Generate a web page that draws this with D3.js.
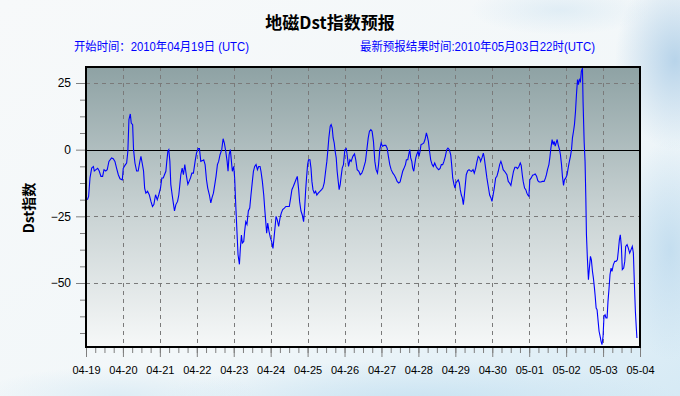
<!DOCTYPE html>
<html><head><meta charset="utf-8">
<script src="https://cdn.jsdelivr.net/npm/d3@7"></script>
<style>body{margin:0;overflow:hidden;} svg{display:block;}</style>
</head><body><svg id="c" width="680" height="396"></svg>
<script>
// ---- texts ----
const titleText = "地磁Dst指数预报";
const startText = "开始时间：2010年04月19日 (UTC)";
const latestText = "最新预报结果时间:2010年05月03日22时(UTC)";
const yLabel = "Dst指数";
// ---- axes ----
const startDate = Date.UTC(2010, 3, 19);
const endDate = Date.UTC(2010, 4, 4);
const yDomain = [-74, 31];
const yMajorTicks = [25, 0, -25, -50];
const yGridTicks = [25, -25, -50];
// ---- series: hours since 2010-04-19 00:00 UTC and Dst values (nT) ----
const hours = [0.9,1.7,2.6,3.7,4.8,5.4,6.5,7.6,8.6,9.7,10.8,11.7,12.8,13.8,14.9,16.6,17.7,18.8,19.9,21,22.1,23.6,24.2,25.3,26.4,27.2,27.9,28.8,29.4,30.3,30.9,31.8,32.9,33.9,35,35.7,36.5,37.4,38.1,38.9,40,41.1,42.2,43.2,44.1,45.2,46.3,47.3,48.4,49.3,50.2,51,51.9,52.5,53.2,53.8,54.5,55.1,56,56.9,57.5,58.4,59.5,60.3,61,61.6,62.5,63.3,64.2,65.3,66.2,67,67.9,68.8,69.8,70.9,71.8,72.9,73.7,74.6,75.7,76.5,77.4,78.3,79.1,80.2,81.1,81.9,82.8,83.7,84.5,85.4,86.2,87.1,88.2,89.1,89.9,
90.8,91.7,92.3,93,93.8,94.5,95.1,96,96.6,97.3,98.2,98.8,99.7,100.3,101,101.6,102.5,103.1,103.8,104.6,105.5,106.4,107.2,108.1,108.8,109.6,110.5,111.4,112.2,113.1,113.7,114.6,115.5,116.1,116.8,117.4,118.1,118.9,119.8,120.6,121.5,122.2,122.8,123.5,124.3,125.2,126.1,126.9,127.8,128.9,129.9,131,132.1,133,133.8,134.7,135.6,136.4,137.3,138.2,138.8,139.7,140.5,141.4,142.1,142.7,143.3,144,144.6,145.5,146.2,146.8,147.5,148.3,149.2,150,150.9,152,153.1,153.9,154.8,155.7,156.5,157.2,157.8,158.7,159.3,160,160.6,161.3,161.9,162.6,163.2,163.9,164.5,165.2,165.8,166.5,167.3,168.2,169.1,169.7,170.6,171.5,172.3,173.4,174.5,175.3,176.2,177.3,178.2,179.2,180.1,
181.6,182.5,183.4,184.2,185.1,185.9,186.8,187.7,188.5,189.4,190.1,190.9,191.8,192.6,193.7,194.8,195.7,196.5,197.4,198.3,199.4,200.4,201.3,202.2,203.2,204.1,205,205.8,206.7,207.6,208.2,209.1,209.7,210.4,211,211.7,212.3,213,213.6,214.3,214.9,215.8,216.4,217.1,217.7,218.6,219.5,220.3,221.2,221.8,222.5,223.1,224,224.9,225.7,226.6,227.5,228.3,229.2,230.1,230.9,231.8,232.6,233.5,234.4,235.2,236.1,237,237.6,238.3,239.1,239.8,240.4,241.1,241.9,242.6,243.2,243.9,244.5,245.2,245.8,246.5,247.1,248,248.9,249.7,250.6,251.5,252.3,253.2,254.1,254.9,255.8,256.4,257.3,258.2,258.8,259.7,260.5,261.4,262.3,263.1,263.8,264.4,265.3,266.2,267,267.9,268.8,269.6,270.3,271.1,272,
273.5,274.4,275.2,276.1,277,277.8,278.7,279.6,280.4,281.3,282.2,282.8,283.5,284.1,285,285.8,286.5,287.1,287.8,288.4,289.3,290.2,291,291.9,292.8,293.6,294.5,295.6,296.6,297.7,298.6,299.2,299.9,300.8,301.4,302.1,302.9,303.6,304.2,304.9,305.5,306.2,306.8,307.7,308.3,309,309.6,310.3,310.9,311.8,312.6,313.3,314.1,314.8,315.5,316.1,316.8,317.4,318.1,318.7,319.4,320,320.6,321.3,321.9,322.6,323,323.7,324.3,324.8,325.2,325.8,326.5,327.1,327.8,328.4,329.1,329.7,330.4,330.8,331.5,332.1,332.8,333.4,334.1,334.7,335.3,336,336.6,337.3,337.9,338.6,339.2,339.9,340.5,341.2,341.8,342.7,343.6,344.4,345.3,345.9,346.6,347.2,347.9,348.5,349.4,350.1,350.7,351.6,352.4,353.3,354.2,355,355.7,356.3,357,357.6,358];
const dst = [-18.8,-17.5,-10.6,-6.9,-6.3,-8,-7.5,-7,-8,-10,-10,-7.5,-8,-7.5,-4.4,-3.1,-3.4,-4.4,-7,-9.4,-10.9,-11.3,-7,-5.9,-5,-0.6,11.3,13.4,10,9.4,0,-5,-8,-8,-4.4,-2.5,-5,-8,-14.4,-16.3,-15.6,-16.9,-19.4,-21.3,-20.6,-16.9,-18.8,-16.9,-14.4,-10.6,-10.6,-9.4,-8.1,-4.4,-0.6,0,-4.4,-13,-17,-20.6,-23,-20.6,-19.4,-17,-13,-9.4,-6.9,-9.4,-5.6,-10,-13,-11.9,-10.6,-8.8,-8.8,-4.4,-1.3,0.4,0.4,-4.4,-4.1,-3.8,-5.6,-11.3,-14.4,-17,-20,-18,-16.3,-13,-10,-5.6,-4.4,-1.9,0,4.1,2.5,
-0.6,-4.4,-8.1,-1.9,0,-4.4,-8.1,-6.3,-10.6,-20.6,-32,-39.4,-43,-37,-32,-35,-34.4,-30.6,-27,-28,-23,-21.9,-17,-11.9,-8.1,-6.3,-5.6,-7.5,-6.3,-6.3,-8.1,-11.9,-17,-21.9,-27,-31.3,-27.5,-30.6,-33,-34.4,-37,-33,-29.4,-25,-26.3,-28.8,-25.6,-23.8,-22.5,-21.9,-21.3,-21.3,-21.3,-18.1,-15,-13.8,-12.5,-11.3,-10,-15,-19.4,-23,-24.4,-27,-21.9,-15.6,-10.6,-5.6,-3.8,-3.8,-6.9,-11.9,-15,-16.3,-15.6,-17,-16.3,-15.6,-15,-14.4,-12.5,-8.1,-4.4,0,4.4,8.8,9.4,8.1,4.4,2.5,-0.6,-3.1,-8.1,-11.9,-15,-13,-10,-6.9,-5.6,0,0.4,-1.9,-6.3,-3.8,-4.4,-2.5,-1.6,-3.8,-7.5,-8.1,-9.4,-8.8,-7.5,
-4.4,0,4.4,6.9,7.5,6.9,3.1,-4.4,-7.5,-8.8,-5.6,0,2.5,1.3,1.6,1.6,0.6,-2.5,-5.6,-7.5,-8.8,-9.6,-10.6,-11.9,-12.5,-12.1,-10,-8.1,-6.9,-5.6,-3.8,-3.8,-1.9,0,-3.1,-4.4,-6.9,-8.1,-5.6,-3.1,-1.9,-0.6,-2.5,-0.6,1.9,2.1,2.5,3.8,6.3,5,3.1,0,-3.8,-5.6,-6.3,-5,-6.3,-7,-7.5,-7,-5.6,-5.6,-4.4,-2.5,0,0.6,0,-1.9,-5.6,-10.6,-13,-14.4,-12.5,-11.9,-11.3,-12.5,-15,-17,-18,-20.6,-17.5,-13,-9.4,-7.9,-7.5,-7.9,-8.1,-7.5,-8.8,-7,-4.4,-2.5,-3.1,-4.4,-3.1,-1.3,-3.1,-7,-10.6,-13.8,-17,-18,-19.4,-17.5,-14.4,-10.6,-10,-8.1,-5.6,-4.4,-5.6,-7.5,-8.1,
-9.4,-11.9,-12.5,-13.4,-10.6,-8.1,-6.6,-6.6,-7.1,-6.3,-5,-5.9,-9.4,-11.9,-14.4,-15,-16.3,-17,-17.5,-11.3,-10.6,-9.6,-9.4,-9.1,-10,-11.6,-12.1,-12.1,-11.9,-11.9,-10.6,-9.4,-7.5,-5.6,-3.1,0.6,3.8,1.9,3.1,1.3,2.5,3.8,1.9,0,-1.9,-5.6,-10,-13.4,-11.3,-10.6,-9.4,-6.9,-4.4,-2.5,0,4.4,6.9,9.4,14.4,20.6,26.3,24.4,26.3,25.6,29.4,30.6,18.1,3.1,-4.4,-18.1,-31.9,-40.6,-48.8,-44.4,-40,-41.3,-45.6,-48.1,-51.9,-54.4,-59.4,-60,-64.4,-68.1,-70,-71.9,-73.1,-70,-62.5,-61.9,-63.1,-63.1,-56.9,-51.9,-46.9,-44.4,-45.6,-43.1,-41.9,-41.9,-41.3,-38.1,-33.8,-31.9,-36.3,-45,-44.4,-41.9,-36.3,-35.6,-36.9,-38.8,-37.5,-36.3,-38.8,-49.4,-60.6,-66.9,-70.6];

const W = 680, H = 396;
const plot = {left: 86, right: 640, top: 67, bottom: 347};
const svg = d3.select("#c");
const defs = svg.append("defs");

// page background (sky)
const bg = defs.append("linearGradient").attr("id","bg").attr("x1","0").attr("y1","0").attr("x2","1").attr("y2","1");
bg.append("stop").attr("offset","0").attr("stop-color","#f7f9fa");
bg.append("stop").attr("offset","0.6").attr("stop-color","#f2f7f9");
bg.append("stop").attr("offset","1").attr("stop-color","#d6eaf5");
svg.append("rect").attr("width",W).attr("height",H).attr("fill","url(#bg)");
function cloud(id, cx, cy, rx, ry, color, op){
  const g = defs.append("radialGradient").attr("id",id);
  g.append("stop").attr("offset","0").attr("stop-color",color).attr("stop-opacity",op);
  g.append("stop").attr("offset","1").attr("stop-color",color).attr("stop-opacity",0);
  svg.append("ellipse").attr("cx",cx).attr("cy",cy).attr("rx",rx).attr("ry",ry).attr("fill",`url(#${id})`);
}
cloud("c1", 675, 60, 60, 90, "#a9cbe6", 0.8);
cloud("c2", 670, 250, 50, 110, "#b7d6ec", 0.7);
cloud("c3", 420, 400, 260, 40, "#c3e0f1", 0.8);
cloud("c4", 120, 396, 140, 30, "#cfe6f3", 0.6);
cloud("c5", 560, 10, 90, 25, "#d3e6f2", 0.6);

// plot background gradient
const pg = defs.append("linearGradient").attr("id","pg").attr("x1","0").attr("y1","0").attr("x2","0").attr("y2","1");
pg.append("stop").attr("offset","0").attr("stop-color","#8ea2a4");
pg.append("stop").attr("offset","0.5").attr("stop-color","#c7d1d2");
pg.append("stop").attr("offset","1").attr("stop-color","#f6f8f8");
svg.append("rect").attr("x",plot.left).attr("y",plot.top)
  .attr("width",plot.right-plot.left).attr("height",plot.bottom-plot.top).attr("fill","url(#pg)");

const x = d3.scaleUtc().domain([new Date(startDate), new Date(endDate)]).range([plot.left, plot.right]);
const y = d3.scaleLinear().domain(yDomain).range([plot.bottom, plot.top]);

// gridlines
const days = d3.utcDay.range(new Date(startDate), new Date(endDate + 1));
const grid = svg.append("g").attr("stroke","#7a7a7a").attr("stroke-dasharray","4,4").attr("stroke-width",1);
days.filter(d => +d > startDate && +d < endDate).forEach(d => {
  const xx = Math.round(x(d)) + 0.5;
  grid.append("line").attr("x1",xx).attr("x2",xx).attr("y1",plot.top).attr("y2",plot.bottom);
});
yGridTicks.forEach(v => {
  const yy = Math.round(y(v)) + 0.5;
  grid.append("line").attr("x1",plot.left).attr("x2",plot.right).attr("y1",yy).attr("y2",yy);
});
// zero line
svg.append("line").attr("x1",plot.left).attr("x2",plot.right)
  .attr("y1",Math.round(y(0))+0.5).attr("y2",Math.round(y(0))+0.5).attr("stroke","#000").attr("stroke-width",1);

// series
const data = hours.map((h,i) => ({t: new Date(startDate + h*3600000), v: dst[i]}));
svg.append("path").datum(data)
  .attr("fill","none").attr("stroke","#0000ff").attr("stroke-width",1.1)
  .attr("d", d3.line().x(d => x(d.t)).y(d => y(d.v)));

// axes
const fontTick = "'Liberation Sans', Arial, sans-serif";
const yMinor = d3.range(-68.75, 31, 6.25).filter(v => yMajorTicks.indexOf(v) < 0);
const yAxMinor = svg.append("g").attr("transform",`translate(${plot.left},0)`)
  .call(d3.axisLeft(y).tickValues(yMinor).tickSize(6).tickFormat(""));
const yAx = svg.append("g").attr("transform",`translate(${plot.left},0)`)
  .call(d3.axisLeft(y).tickValues(yMajorTicks).tickSize(10).tickPadding(5).tickFormat(d3.format("d")));
const xAxMinor = svg.append("g").attr("transform",`translate(0,${plot.bottom})`)
  .call(d3.axisBottom(x).ticks(d3.utcHour.every(6)).tickSize(6).tickFormat(""));
const xAx = svg.append("g").attr("transform",`translate(0,${plot.bottom})`)
  .call(d3.axisBottom(x).tickValues(days).tickSize(10).tickPadding(9).tickFormat(d3.utcFormat("%m-%d")));
[yAxMinor, yAx, xAxMinor, xAx].forEach(g => {
  g.select(".domain").remove();
  g.selectAll(".tick line").attr("stroke","#7f7f7f");
  g.selectAll(".tick text").attr("fill","#000").style("font-family",fontTick).style("font-size","11px");
});
yAx.selectAll(".tick text").style("font-size","12px");

// frame
svg.append("rect").attr("x",plot.left).attr("y",plot.top)
  .attr("width",plot.right-plot.left).attr("height",plot.bottom-plot.top)
  .attr("fill","none").attr("stroke","#000").attr("stroke-width",2);

// titles
svg.append("text").attr("x",330).attr("y",29).attr("text-anchor","middle")
  .style("font-family","'Noto Sans CJK SC', sans-serif").style("font-weight","bold").style("font-size","17px")
  .attr("fill","#000").text(titleText);
const subFont = "'Liberation Sans', 'Noto Sans CJK SC', sans-serif";
svg.append("text").attr("x",74).attr("y",51)
  .attr("textLength",175).attr("lengthAdjust","spacingAndGlyphs")
  .style("font-family",subFont).style("font-size","12px")
  .attr("fill","#0000ff").text(startText);
svg.append("text").attr("x",360).attr("y",51)
  .attr("textLength",235).attr("lengthAdjust","spacingAndGlyphs")
  .style("font-family",subFont).style("font-size","12px")
  .attr("fill","#0000ff").text(latestText);
svg.append("text").attr("transform","translate(34,208) rotate(-90)").attr("text-anchor","middle")
  .style("font-family","'Noto Sans CJK SC', sans-serif").style("font-weight","bold").style("font-size","14px")
  .attr("fill","#000").text(yLabel);
</script>
</body></html>
